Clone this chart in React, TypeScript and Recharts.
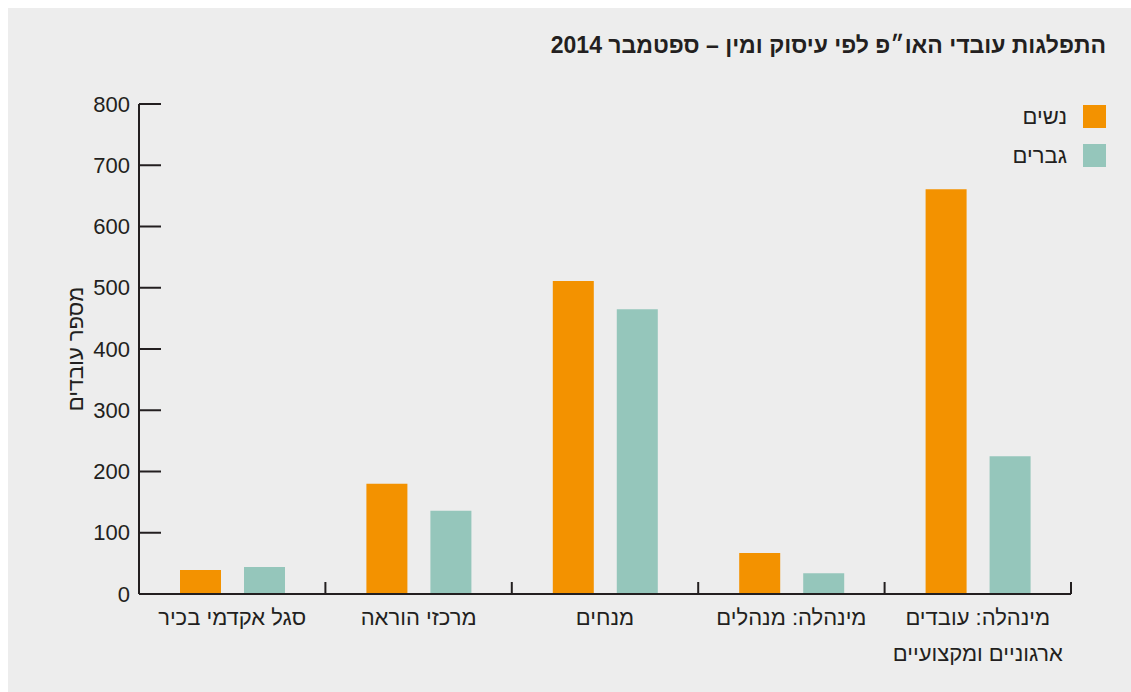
// Workforce distribution by occupation and gender, Sept 2014 — grouped bars.
import { Bar, BarChart, XAxis, YAxis } from "recharts";

const categories = [
  "סגל אקדמי בכיר",
  "מרכזי הוראה",
  "מנחים",
  "מינהלה: מנהלים",
  "מינהלה: עובדים\nארגוניים ומקצועיים",
];
const women = [39, 180, 511, 67, 661];
const men = [44, 136, 465, 34, 225];
const yTicks = [0, 100, 200, 300, 400, 500, 600, 700, 800];

const data = categories.map((name, i) => ({ name, women: women[i], men: men[i] }));

const FONT = "'Liberation Sans', Arial, sans-serif";
const INK = "#231f20";
const ORANGE = "#f39200";
const TEAL = "#95c6bb";
const BAND = 932 / categories.length;

function YTick(props: any) {
  const { x, y, payload } = props;
  return (
    <g>
      <line x1={x} x2={x + 22} y1={y} y2={y} stroke={INK} strokeWidth={2} />
      <text x={x - 9} y={y} textAnchor="end" dominantBaseline="central" fontSize={22} fill={INK} fontFamily={FONT}>
        {payload.value}
      </text>
    </g>
  );
}

function XTick(props: any) {
  const { x, y, payload } = props;
  const lines = String(payload.value).split("\n");
  const edge = x + BAND / 2;
  return (
    <g>
      <line x1={edge} x2={edge} y1={y} y2={y - 12} stroke={INK} strokeWidth={2} />
      {lines.map((l, i) => (
        <text key={i} x={x} y={y + 31 + i * 36} textAnchor="middle" direction="rtl" fontSize={22} fill={INK} fontFamily={FONT}>
          {l}
        </text>
      ))}
    </g>
  );
}

function LegendBox() {
  const rows = [
    { label: "נשים", color: ORANGE },
    { label: "גברים", color: TEAL },
  ];
  return (
    <div style={{ position: "absolute", top: 97, right: 25, fontFamily: FONT }}>
      {rows.map((r) => (
        <div key={r.label} style={{ display: "flex", alignItems: "center", justifyContent: "flex-end", height: 23, marginBottom: 16 }}>
          <span style={{ fontSize: 22, color: INK, marginRight: 16, direction: "rtl" }}>{r.label}</span>
          <span style={{ width: 23, height: 23, background: r.color, display: "inline-block" }} />
        </div>
      ))}
    </div>
  );
}

export default function App() {
  return (
    <div style={{ position: "absolute", left: 0, top: 0, width: 1131, height: 692, background: "#fff", overflow: "hidden" }}>
      <div style={{ position: "absolute", left: 8, top: 8, width: 1123, height: 684, background: "#ededed", fontFamily: FONT }}>
        <div style={{ position: "absolute", right: 25, top: 24, fontSize: 23, fontWeight: "bold", color: INK, direction: "rtl", whiteSpace: "nowrap" }}>
          התפלגות עובדי האו״פ לפי עיסוק ומין – ספטמבר 2014
        </div>
        <BarChart
          width={1123}
          height={684}
          data={data}
          margin={{ top: 96, right: 60, bottom: 18, left: 71 }}
          barGap={23}
          barSize={41}
        >
          <XAxis
            dataKey="name"
            height={80}
            interval={0}
            tick={<XTick />}
            tickSize={0}
            tickMargin={0}
            tickLine={false}
            axisLine={{ stroke: INK, strokeWidth: 2 }}
          />
          <YAxis
            width={60}
            domain={[0, 800]}
            ticks={yTicks}
            interval={0}
            tick={<YTick />}
            tickSize={0}
            tickMargin={0}
            tickLine={false}
            axisLine={{ stroke: INK, strokeWidth: 2 }}
            label={{
              value: "מספר עובדים",
              angle: -90,
              position: "insideLeft",
              dx: -9,
              style: { fontSize: 22, fill: INK, fontFamily: FONT, textAnchor: "middle" },
            }}
          />
          <Bar dataKey="women" name="נשים" fill={ORANGE} isAnimationActive={false} />
          <Bar dataKey="men" name="גברים" fill={TEAL} isAnimationActive={false} />
        </BarChart>
        <LegendBox />
      </div>
    </div>
  );
}
